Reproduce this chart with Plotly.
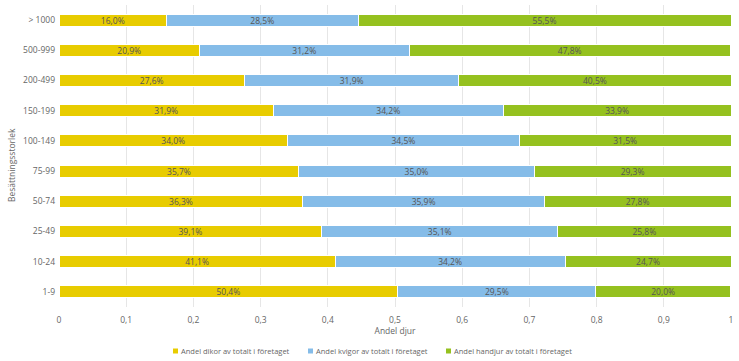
import plotly.graph_objects as go

categories = ["1-9", "10-24", "25-49", "50-74", "75-99", "100-149", "150-199", "200-499", "500-999", "> 1000"]
dikor = [50.4, 41.1, 39.1, 36.3, 35.7, 34.0, 31.9, 27.6, 20.9, 16.0]
kvigor = [29.5, 34.2, 35.1, 35.9, 35.0, 34.5, 34.2, 31.9, 31.2, 28.5]
handjur = [20.0, 24.7, 25.8, 27.8, 29.3, 31.5, 33.9, 40.5, 47.8, 55.5]
series_names = ["Andel dikor av totalt i företaget", "Andel kvigor av totalt i företaget", "Andel handjur av totalt i företaget"]
colors = ["#E8CC00", "#85BCE8", "#95C11F"]

W, H = 739, 361
ML, MR, MT, MB = 59, 8, 5, 54
PW, PH = W - ML - MR, H - MT - MB

fig = go.Figure()
for name, vals, col in zip(series_names, [dikor, kvigor, handjur], colors):
    fig.add_trace(go.Bar(
        y=categories, x=[v / 100 for v in vals], name=name, orientation="h",
        marker=dict(color=col, line=dict(color="white", width=1)),
        text=[f"{v:.1f}%".replace(".", ",") for v in vals],
        textposition="inside", insidetextanchor="middle",
        textfont=dict(family="Open Sans", size=8.5, color="#555555"),
        hoverinfo="skip", showlegend=False,
    ))

# custom legend (small squares + labels) placed below the axis title
legend_px = [173, 308, 446]
legend_py = 351
shapes, annotations = [], []
for px, name, col in zip(legend_px, series_names, colors):
    shapes.append(dict(type="rect", xref="paper", yref="paper",
                       x0=(px - ML) / PW, x1=(px + 5 - ML) / PW,
                       y0=(MT + PH - (legend_py - 2.5)) / PH, y1=(MT + PH - (legend_py + 2.5)) / PH,
                       fillcolor=col, line=dict(width=0)))
    annotations.append(dict(text=name, xref="paper", yref="paper",
                            x=(px + 6 - ML) / PW, y=(MT + PH - legend_py) / PH,
                            xanchor="left", yanchor="middle", showarrow=False,
                            font=dict(family="Open Sans", size=7.5, color="#666666")))

# y-axis title (slightly below the plot centre, as in the reference)
annotations.append(dict(text="Besättningsstorlek", xref="paper", yref="paper",
                        x=(11 - ML) / PW, y=(MT + PH - 165) / PH, textangle=-90,
                        xanchor="center", yanchor="middle", showarrow=False,
                        font=dict(family="Open Sans", size=8.5, color="#666666")))

fig.update_layout(
    barmode="stack", bargap=0.6,
    width=W, height=H,
    margin=dict(l=ML, r=MR, t=MT, b=MB, autoexpand=False),
    plot_bgcolor="white", paper_bgcolor="white",
    separators=", ",
    showlegend=False,
    font=dict(family="Open Sans", size=9, color="#666666"),
    uniformtext=dict(minsize=7, mode="show"),
    xaxis=dict(range=[0, 1], dtick=0.1, tick0=0, showgrid=True, gridcolor="#e6e6e6",
               zeroline=False, showline=False, ticks="", automargin=False,
               ticklabelstandoff=6,
               title=dict(text="Andel djur", font=dict(size=8.5, color="#666666"), standoff=4),
               tickfont=dict(size=8.5, color="#666666")),
    yaxis=dict(categoryorder="array", categoryarray=categories, showgrid=False,
               ticks="", ticklen=0, automargin=False, ticklabelstandoff=3,
               tickfont=dict(size=8.5, color="#666666")),
    shapes=shapes,
    annotations=annotations,
)

fig.write_html("out.html", config={"displayModeBar": False},
               post_script="document.body.style.margin='0';")
